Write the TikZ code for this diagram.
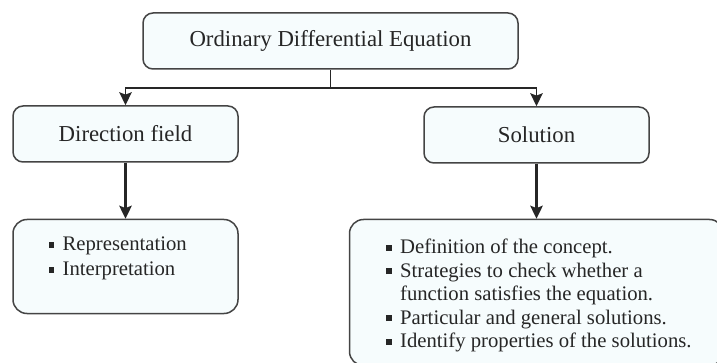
\documentclass[tikz,border=0pt]{standalone}
\usepackage{fontspec}
\setmainfont{Liberation Serif}
\usepackage{tikz}
\usetikzlibrary{positioning,arrows.meta}
\definecolor{boxfill}{RGB}{246,252,253}
\definecolor{boxline}{RGB}{68,68,68}
\definecolor{ink}{RGB}{38,38,38}
\newcommand{\sqitem}{\rule[1.6pt]{2.8pt}{2.8pt}}

\begin{document}
\begin{tikzpicture}[
    x=0.5pt, y=-0.5pt,
    node distance=28pt,
    >={Stealth[length=6.5pt,width=6.2pt,inset=1.2pt]}
]


\tikzstyle{box}=[
    draw=boxline,
    fill=boxfill,
    line width=0.75pt,
    rounded corners=5pt,
    text=ink,
    font=\fontsize{11.4}{13.7}\selectfont,
    inner sep=0pt
]
\tikzstyle{listbox}=[box, rounded corners=7pt]
\tikzstyle{items}=[anchor=base west, inner sep=0pt, align=left, text=ink]
\tikzstyle{link}=[draw=ink, line width=0.8pt]
\tikzstyle{flow}=[->, draw=ink, line width=1.4pt]


\useasboundingbox (0,0) rectangle (717,363);


\node[box, minimum width=187.5pt, minimum height=28pt] (ode) at (330.5,41) {Ordinary Differential Equation};
\node[box, minimum width=112.5pt, minimum height=28pt] (dir) at (125.5,134) {Direction field};
\node[box, minimum width=112.5pt, minimum height=28pt] (sol) at (536.5,135) {Solution};

\node[listbox, minimum width=112.5pt, minimum height=47pt, below=28pt of dir] (dirlist) {};
\node[listbox, minimum width=187pt, minimum height=73pt, below=27.5pt of sol] (sollist) {};


\node[items, font=\fontsize{10.35}{12.5}\selectfont] (dirtext)
    at ([xshift=18pt, yshift=-16pt]dirlist.north west)
    {\begin{tabular}[t]{@{}l@{\hspace{4.2pt}}l@{}}
     \sqitem & Representation\\
     \sqitem & Interpretation
     \end{tabular}};
\node[items, font=\fontsize{10.35}{11.75}\selectfont] (soltext)
    at ([xshift=18.5pt, yshift=-17.5pt]sollist.north west)
    {\begin{tabular}[t]{@{}l@{\hspace{4.2pt}}l@{}}
     \sqitem & Definition of the concept.\\
     \sqitem & Strategies to check whether a\\
             & function satisfies the equation.\\
     \sqitem & Particular and general solutions.\\
     \sqitem & Identify properties of the solutions.
     \end{tabular}};


\coordinate (split) at (330.5,88);

\draw[link] (ode) -- (split);
\draw[link, ->] (split) -| (dir.north);
\draw[link, ->] (split) -| (sol.north);

\draw[flow] (dir) -- (dirlist);
\draw[flow] (sol) -- (sollist);

\end{tikzpicture}
\end{document}
